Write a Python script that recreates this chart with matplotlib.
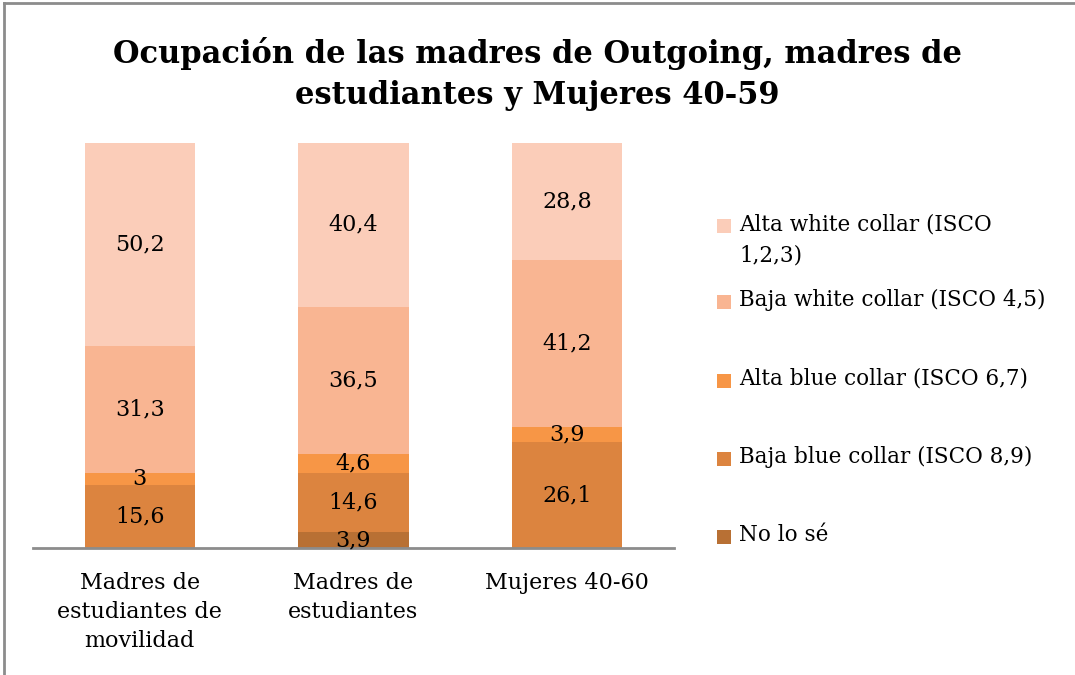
import matplotlib
matplotlib.use("Agg")
import matplotlib.pyplot as plt
from matplotlib.patches import Rectangle
from matplotlib.lines import Line2D
import numpy as np

plt.rcParams['font.family'] = ['DejaVu Serif']

categories = ["Madres de\nestudiantes de\nmovilidad", "Madres de\nestudiantes", "Mujeres 40-60"]
series_names = ["No lo sé", "Baja blue collar (ISCO 8,9)", "Alta blue collar (ISCO 6,7)",
                "Baja white collar (ISCO 4,5)", "Alta white collar (ISCO\n1,2,3)"]
no_lo_se = [0, 3.9, 0]
baja_blue = [15.6, 14.6, 26.1]
alta_blue = [3, 4.6, 3.9]
baja_white = [31.3, 36.5, 41.2]
alta_white = [50.2, 40.4, 28.8]
values = [no_lo_se, baja_blue, alta_blue, baja_white, alta_white]
colors = ["#B87034", "#DC843F", "#F79646", "#F9B592", "#FBCDB9"]
title = "Ocupación de las madres de Outgoing, madres de\nestudiantes y Mujeres 40-59"

W, H = 1075, 675
fig = plt.figure(figsize=(W / 100, H / 100), dpi=100)
ax = fig.add_axes([33 / W, 1 - 548 / H, (674 - 33) / W, (548 - 143) / H])

x = np.arange(len(categories))
bottom = np.zeros(len(categories))
for vals, col in zip(values, colors):
    vals = np.array(vals, dtype=float)
    ax.bar(x, vals, width=0.515, bottom=bottom, color=col, zorder=2)
    for xi, v, b in zip(x, vals, bottom):
        if v > 0:
            ax.text(xi, b + v / 2, f"{v:g}".replace(".", ","), ha="center", va="center",
                    fontsize=16, color="black", zorder=3)
    bottom += vals

ax.set_xlim(-0.5, len(categories) - 0.5)
ax.set_ylim(0, 100)
ax.set_yticks([])
ax.set_xticks(x)
ax.set_xticklabels(categories, fontsize=16, linespacing=1.42)
ax.tick_params(axis="x", length=0, pad=17)
for s in ["left", "right", "top"]:
    ax.spines[s].set_visible(False)
ax.spines["bottom"].set_color("#8C8C8C")
ax.spines["bottom"].set_linewidth(2)

fig.text(0.5, 1 - 74 / H, title, ha="center", va="center", fontsize=22,
         fontweight="bold", linespacing=1.4)

# legend (top entry first)
leg_y = [226, 302, 381, 459, 537]
for name, col, yy in zip(series_names[::-1], colors[::-1], leg_y):
    fig.patches.append(Rectangle((717 / W, 1 - (yy + 7) / H), 14 / W, 14 / H,
                                 transform=fig.transFigure, facecolor=col, edgecolor="none"))
    fig.text(739 / W, 1 - (yy - 13) / H, name, ha="left", va="top", fontsize=15.5,
             linespacing=1.55)

# chart frame (left and top visible)
fig.lines.append(Line2D([4 / W, 4 / W], [0, 1 - 3 / H], transform=fig.transFigure,
                        color="#8C8C8C", linewidth=2))
fig.lines.append(Line2D([4 / W, 1], [1 - 3 / H, 1 - 3 / H], transform=fig.transFigure,
                        color="#8C8C8C", linewidth=2))

fig.savefig("out.png", dpi=100)
